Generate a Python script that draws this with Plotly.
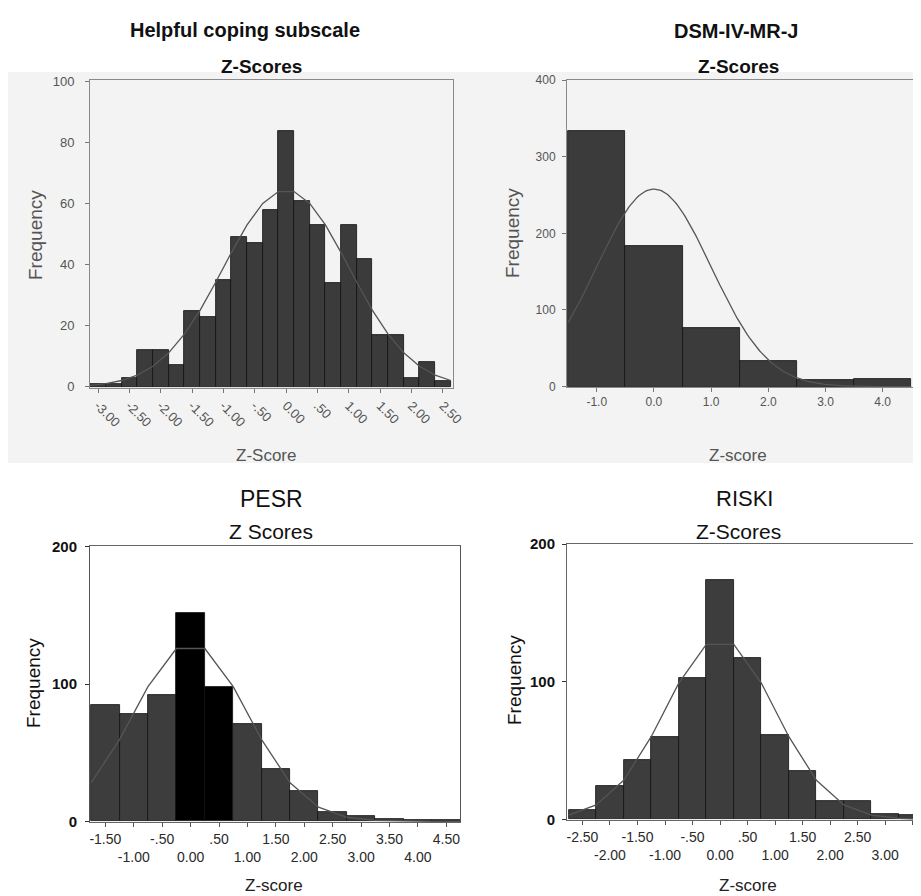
import numpy as np
import plotly.graph_objects as go

# page body has an 8px margin; the figure is sized so that it fills the 921x896 window
PAGE_W, PAGE_H = 921, 896
OFF = 8
W, H = PAGE_W - OFF, PAGE_H - OFF
FONT = "Liberation Sans, Arial, Helvetica, sans-serif"

# ---------------- data ----------------
# Panel 1: Helpful coping subscale (bin width 0.25)
helpful_centers = [-3.00, -2.75, -2.50, -2.25, -2.00, -1.75, -1.50, -1.25, -1.00, -0.75, -0.50, -0.25,
                   0.00, 0.25, 0.50, 0.75, 1.00, 1.25, 1.50, 1.75, 2.00, 2.25, 2.50]
helpful_counts = [1, 1, 3, 12, 12, 7, 25, 23, 35, 49, 47, 58, 84, 61, 53, 34, 53, 42, 17, 17, 3, 8, 2]
helpful_binw = 0.25
helpful_ticks = [-3.0, -2.5, -2.0, -1.5, -1.0, -0.5, 0.0, 0.5, 1.0, 1.5, 2.0, 2.5]
helpful_ticktext = ["-3.00", "-2.50", "-2.00", "-1.50", "-1.00", "-.50", "0.00", ".50", "1.00", "1.50", "2.00", "2.50"]

# Panel 2: DSM-IV-MR-J (bin width 1.0)
dsm_centers = [-1.0, 0.0, 1.0, 2.0, 3.0, 4.0]
dsm_counts = [334, 184, 76, 34, 8, 10]
dsm_binw = 1.0
dsm_ticks = [-1.0, 0.0, 1.0, 2.0, 3.0, 4.0]
dsm_ticktext = ["-1.0", "0.0", "1.0", "2.0", "3.0", "4.0"]

# Panel 3: PESR (bin width 0.5)
pesr_centers = [-1.5, -1.0, -0.5, 0.0, 0.5, 1.0, 1.5, 2.0, 2.5, 3.0, 3.5, 4.0, 4.5]
pesr_counts = [85, 78, 92, 152, 98, 71, 38, 22, 7, 4, 2, 1, 1]
pesr_binw = 0.5
pesr_ticks = [-1.5, -1.0, -0.5, 0.0, 0.5, 1.0, 1.5, 2.0, 2.5, 3.0, 3.5, 4.0, 4.5]
pesr_ticktext = ["-1.50", "<br>-1.00", "-.50", "<br>0.00", ".50", "<br>1.00", "1.50", "<br>2.00",
                 "2.50", "<br>3.00", "3.50", "<br>4.00", "4.50"]
pesr_retouched = [0.0, 0.5]   # bars that appear solid black in the scan

# Panel 4: RISKI (bin width 0.5)
riski_centers = [-2.5, -2.0, -1.5, -1.0, -0.5, 0.0, 0.5, 1.0, 1.5, 2.0, 2.5, 3.0, 3.5]
riski_counts = [7, 24, 43, 60, 103, 174, 117, 61, 35, 13, 13, 4, 3]
riski_binw = 0.5
riski_ticks = [-2.5, -2.0, -1.5, -1.0, -0.5, 0.0, 0.5, 1.0, 1.5, 2.0, 2.5, 3.0, 3.5]
riski_ticktext = ["-2.50", "<br>-2.00", "-1.50", "<br>-1.00", "-.50", "<br>0.00", ".50", "<br>1.00",
                  "1.50", "<br>2.00", "2.50", "<br>3.00", "3.50"]

# fitted normal curve parameters (z-scores)
z_mean = 0.0
z_sd = 1.0


def normal_curve(centers, counts, binw, smooth=False):
    n = sum(counts)
    lo = centers[0] - binw / 2
    hi = centers[-1] + binw / 2
    if smooth:
        xs = np.linspace(lo, hi, 200)
    else:
        xs = np.array([c - binw / 2 for c in centers] + [hi])
    ys = n * binw * np.exp(-0.5 * ((xs - z_mean) / z_sd) ** 2) / (z_sd * np.sqrt(2 * np.pi))
    return xs, ys


def px_x(p):
    return (p - OFF) / W


def px_y(p):
    return 1 - (p - OFF) / H


fig = go.Figure()

BAR_TOP = "#3b3b3b"
BAR_BOT = "#3d3d3d"
CURVE = "#555555"

panels = [
    (helpful_centers, helpful_counts, helpful_binw, False, "x", "y", [BAR_TOP] * len(helpful_centers)),
    (dsm_centers, dsm_counts, dsm_binw, True, "x2", "y2", [BAR_TOP] * len(dsm_centers)),
    (pesr_centers, pesr_counts, pesr_binw, False, "x3", "y3",
     ["#000000" if c in pesr_retouched else BAR_BOT for c in pesr_centers]),
    (riski_centers, riski_counts, riski_binw, False, "x4", "y4", [BAR_BOT] * len(riski_centers)),
]

for centers, counts, binw, smooth, xa, ya, colors in panels:
    fig.add_trace(go.Bar(x=centers, y=counts, width=binw, xaxis=xa, yaxis=ya,
                         marker=dict(color=colors, line=dict(color="#111111", width=0.8)),
                         showlegend=False, hoverinfo="x+y"))
    cx, cy = normal_curve(centers, counts, binw, smooth)
    fig.add_trace(go.Scatter(x=cx, y=cy, mode="lines", xaxis=xa, yaxis=ya,
                             line=dict(color=CURVE, width=1.3), showlegend=False, hoverinfo="skip"))

common_axis = dict(showgrid=False, zeroline=False, showline=True, mirror=True, ticks="outside",
                   ticklen=4, fixedrange=True, automargin=False)

# domains (page-pixel based)
d1x = [px_x(90), px_x(453)]; d1y = [px_y(388), px_y(80)]
d2x = [px_x(567), px_x(913)]; d2y = [px_y(387), px_y(80)]
d3x = [px_x(90), px_x(460)]; d3y = [px_y(822), px_y(546)]
d4x = [px_x(567), 1.0]; d4y = [px_y(820), px_y(544)]

grey_tick = dict(family=FONT, size=13, color="#555555")

fig.update_layout(
    template="none",
    width=W, height=H, autosize=False,
    margin=dict(l=0, r=0, t=0, b=0, pad=0),
    paper_bgcolor="white", plot_bgcolor="rgba(0,0,0,0)",
    bargap=0, font=dict(family=FONT), showlegend=False,
    xaxis=dict(common_axis, domain=d1x, anchor="y", range=[-3.13, 2.66], tickvals=helpful_ticks,
               ticktext=helpful_ticktext, tickangle=45, tickfont=grey_tick,
               linecolor="#8a8a8a", tickcolor="#777777"),
    yaxis=dict(common_axis, domain=d1y, anchor="x", range=[-0.4, 100.6], tickvals=[0, 20, 40, 60, 80, 100],
               tickfont=grey_tick, linecolor="#8a8a8a", tickcolor="#777777", ticklabelstandoff=8),
    xaxis2=dict(common_axis, domain=d2x, anchor="y2", range=[-1.52, 4.53], tickvals=dsm_ticks,
                ticktext=dsm_ticktext, tickfont=dict(family=FONT, size=12, color="#555555"),
                linecolor="#8a8a8a", tickcolor="#777777"),
    yaxis2=dict(common_axis, domain=d2y, anchor="x2", range=[-0.5, 400], tickvals=[0, 100, 200, 300, 400],
                tickfont=dict(family=FONT, size=12, color="#555555"), linecolor="#8a8a8a",
                tickcolor="#777777", ticklabelstandoff=4),
    xaxis3=dict(common_axis, domain=d3x, anchor="y3", range=[-1.77, 4.74], tickvals=pesr_ticks,
                ticktext=pesr_ticktext, tickangle=0, tickfont=dict(family=FONT, size=14, color="#2a2a2a"),
                linecolor="#666666", tickcolor="#555555"),
    yaxis3=dict(common_axis, domain=d3y, anchor="x3", range=[-0.5, 200.5], tickvals=[0, 100, 200],
                tickfont=dict(family=FONT, size=15, color="#111111", weight="bold"),
                linecolor="#555555", tickcolor="#333333", ticklabelstandoff=5),
    xaxis4=dict(common_axis, domain=d4x, anchor="y4", range=[-2.78, 3.65], tickvals=riski_ticks,
                ticktext=riski_ticktext, tickangle=0, tickfont=dict(family=FONT, size=14, color="#2a2a2a"),
                linecolor="#666666", tickcolor="#555555"),
    yaxis4=dict(common_axis, domain=d4y, anchor="x4", range=[-0.5, 200], tickvals=[0, 100, 200],
                tickfont=dict(family=FONT, size=15, color="#111111", weight="bold"),
                linecolor="#666666", tickcolor="#333333", ticklabelstandoff=4),
)

# grey scanned background behind the top two charts
fig.add_shape(type="rect", xref="paper", yref="paper", x0=px_x(8), x1=px_x(915), y0=px_y(463), y1=px_y(72),
              fillcolor="#f3f3f3", line=dict(width=0), layer="below")


def ann(text, x, y, size, color="#111111", bold=False, angle=0):
    fig.add_annotation(text=text, x=px_x(x), y=px_y(y), xref="paper", yref="paper", showarrow=False,
                       xanchor="center", yanchor="middle", textangle=angle,
                       font=dict(family=FONT, size=size, color=color, weight="bold" if bold else "normal"))


# Titles
ann("Helpful coping subscale", 245, 30, 20, "#111111", bold=True)
ann("Z-Scores", 261, 66, 19, "#111111", bold=True)
ann("DSM-IV-MR-J", 736, 31, 20, "#111111", bold=True)
ann("Z-Scores", 738, 66, 19, "#111111", bold=True)
ann("PESR", 271, 499, 23)
ann("Z Scores", 271, 531, 21)
ann("RISKI", 744, 499, 22)
ann("Z-Scores", 738, 531, 21)

# Axis titles
ann("Frequency", 35, 235, 19, "#555555", angle=-90)
ann("Z-Score", 266, 456, 17, "#555555")
ann("Frequency", 512, 233, 19, "#555555", angle=-90)
ann("Z-score", 738, 456, 17, "#555555")
ann("Frequency", 33, 683, 19, "#111111", angle=-90)
ann("Z-score", 274, 885, 17, "#222222")
ann("Frequency", 514, 680, 19, "#111111", angle=-90)
ann("Z-score", 748, 885, 17, "#222222")

fig.write_html("out.html")
